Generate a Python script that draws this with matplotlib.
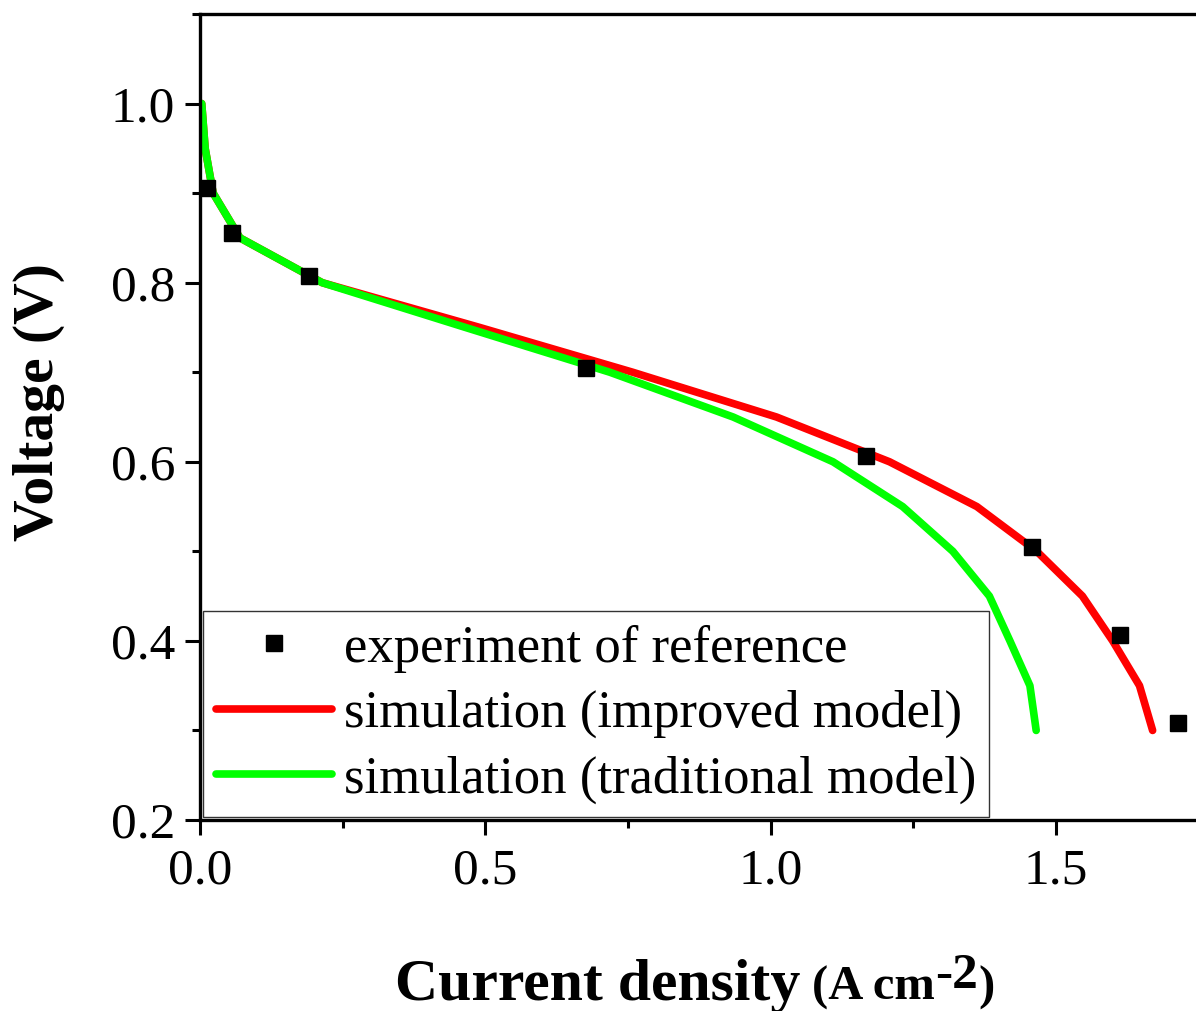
import matplotlib
matplotlib.use('Agg')
import matplotlib.pyplot as plt
from matplotlib.ticker import MultipleLocator

plt.rcParams['font.family'] = ['Liberation Serif', 'DejaVu Serif']

# experiment data (A cm-2, V)
exp_current = [0.012, 0.056, 0.191, 0.676, 1.166, 1.457, 1.611, 1.713]
exp_voltage = [0.906, 0.856, 0.807, 0.705, 0.606, 0.505, 0.407, 0.308]

# simulation, improved model
imp_current = [0.003, 0.009, 0.023, 0.070, 0.214, 0.490, 0.758, 1.010, 1.208, 1.361, 1.466, 1.546, 1.599, 1.646, 1.669]
imp_voltage = [1.00, 0.95, 0.90, 0.85, 0.80, 0.75, 0.70, 0.65, 0.60, 0.55, 0.50, 0.45, 0.40, 0.35, 0.30]

# simulation, traditional model
trad_current = [0.003, 0.009, 0.023, 0.070, 0.214, 0.465, 0.718, 0.934, 1.109, 1.231, 1.319, 1.383, 1.419, 1.454, 1.465]
trad_voltage = [1.00, 0.95, 0.90, 0.85, 0.80, 0.75, 0.70, 0.65, 0.60, 0.55, 0.50, 0.45, 0.40, 0.35, 0.30]

fig = plt.figure(figsize=(11.96, 10.11), dpi=100)
ax = fig.add_axes([200 / 1196, 1 - 820 / 1011, 1 - 200 / 1196, (820 - 14) / 1011])

ax.plot(exp_current, exp_voltage, 's', color='black', markersize=12,
        label='experiment of reference', zorder=3)
ax.plot(imp_current, imp_voltage, '-', color='#ff0000', lw=5.5,
        solid_capstyle='round', label='simulation (improved model)')
ax.plot(trad_current, trad_voltage, '-', color='#00ff00', lw=5.5,
        solid_capstyle='round', label='simulation (traditional model)')

ax.set_xlim(0, 1.745)
ax.set_ylim(0.2, 1.1)
ax.xaxis.set_minor_locator(MultipleLocator(0.25))
ax.yaxis.set_minor_locator(MultipleLocator(0.1))
ax.set_yticks([0.2, 0.4, 0.6, 0.8, 1.0])
ax.set_yticklabels(['0.2', '0.4', '0.6', '0.8', '1.0'])
ax.set_xticks([0.0, 0.5, 1.0, 1.5])
ax.set_xticklabels(['0.0', '0.5', '1.0', '1.5'])

ax.spines['right'].set_visible(False)
for s in ['left', 'bottom', 'top']:
    ax.spines[s].set_linewidth(2.4)
ax.tick_params(which='major', direction='out', length=11, width=2.2,
               labelsize=37, pad=7)
ax.tick_params(which='minor', direction='out', length=6, width=2.2)
ax.tick_params(axis='x', which='major', pad=9)

ax.set_ylabel('Voltage (V)', fontsize=41.5, fontweight='bold')
ax.yaxis.set_label_coords(-0.1355, 0.5186)

leg = ax.legend(loc='lower left', fontsize=38, frameon=True, fancybox=False,
                edgecolor='black', handlelength=2.2, borderaxespad=0.05,
                borderpad=0.25, labelspacing=0.33, handletextpad=0.22)
leg.get_frame().set_linewidth(1.0)

# x label built from pieces with different sizes
fig.canvas.draw()
r = fig.canvas.get_renderer()
inv = fig.transFigure.inverted()
base = 1 - 1000 / 1011
t1 = fig.text(395 / 1196, base, 'Current density', fontsize=43,
              fontweight='bold', va='baseline', ha='left')
fig.canvas.draw()
x = inv.transform((t1.get_window_extent(r).x1, 0))[0] + 12 / 1196
t2 = fig.text(x, base, '(A cm', fontsize=35, fontweight='bold',
              va='baseline', ha='left')
fig.canvas.draw()
x = inv.transform((t2.get_window_extent(r).x1, 0))[0]
t3 = fig.text(x, 1 - 988 / 1011, '-2', fontsize=37, fontweight='bold',
              va='baseline', ha='left')
fig.canvas.draw()
x = inv.transform((t3.get_window_extent(r).x1, 0))[0]
fig.text(x, base, ')', fontsize=35, fontweight='bold',
         va='baseline', ha='left')

fig.savefig('out.png', dpi=100)
